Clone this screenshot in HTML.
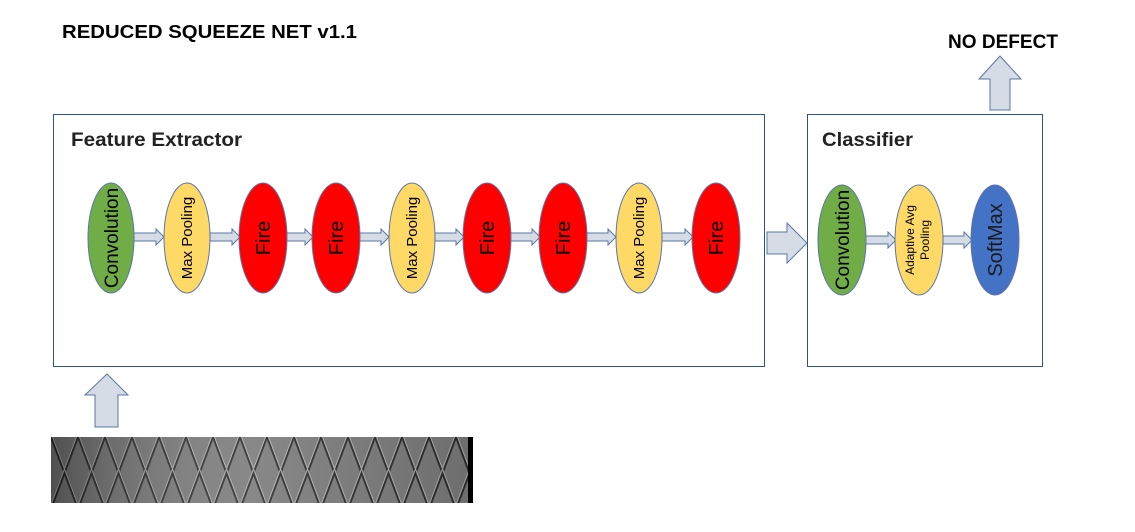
<!DOCTYPE html>
<html><head><meta charset="utf-8"><style>
html,body{margin:0;padding:0;background:#fff;}
svg{display:block;}
text{font-family:"Liberation Sans",sans-serif;}
</style></head><body>
<svg width="1135" height="532" viewBox="0 0 1135 532" xmlns="http://www.w3.org/2000/svg">
<defs>
<pattern id="dia" x="51" y="437" width="27" height="72" patternUnits="userSpaceOnUse">
<rect width="27" height="72" fill="#7a7a7a"/>
<path d="M0,0 L27,72 M27,0 L0,72 M-13.5,36 L13.5,108 M13.5,-36 L40.5,36 M40.5,36 L13.5,108 M13.5,-36 L-13.5,36" stroke="#2a2a2a" stroke-width="2"/>
<path d="M1.5,0 L28.5,72 M25.5,0 L-1.5,72" stroke="#b0b0b0" stroke-width="1"/>
</pattern>
<linearGradient id="shade" x1="0" x2="1">
<stop offset="0" stop-color="#000" stop-opacity="0.35"/>
<stop offset="0.5" stop-color="#fff" stop-opacity="0.1"/>
<stop offset="1" stop-color="#000" stop-opacity="0.1"/>
</linearGradient>
</defs>

<text x="62" y="38" font-size="18" font-weight="bold" fill="#000" textLength="295" lengthAdjust="spacingAndGlyphs">REDUCED SQUEEZE NET v1.1</text>
<text x="948" y="48" font-size="19" font-weight="bold" fill="#000" textLength="110" lengthAdjust="spacingAndGlyphs">NO DEFECT</text>

<rect x="53.5" y="114.5" width="711" height="252" fill="#fff" stroke="#2f4f8f" stroke-width="1"/>
<rect x="807.5" y="114.5" width="235" height="252" fill="#fff" stroke="#2f4f8f" stroke-width="1"/>
<text x="71" y="146" font-size="19" font-weight="bold" fill="#222" textLength="171" lengthAdjust="spacingAndGlyphs">Feature Extractor</text>
<text x="822" y="146" font-size="19" font-weight="bold" fill="#222" textLength="91" lengthAdjust="spacingAndGlyphs">Classifier</text>

<g fill="#d6dce5" stroke="#5b76a8" stroke-width="1">
<path d="M134,233 H156 V229 L164,237 L156,245 V241 H134 Z"/>
<path d="M210,233 H232 V229 L240,237 L232,245 V241 H210 Z"/>
<path d="M286,233 H305 V229 L313,237 L305,245 V241 H286 Z"/>
<path d="M359,233 H381 V229 L389,237 L381,245 V241 H359 Z"/>
<path d="M435,233 H456 V229 L464,237 L456,245 V241 H435 Z"/>
<path d="M510,233 H532 V229 L540,237 L532,245 V241 H510 Z"/>
<path d="M586,233 H608 V229 L616,237 L608,245 V241 H586 Z"/>
<path d="M662,233 H685 V229 L693,237 L685,245 V241 H662 Z"/>
<path d="M866,236 H888 V232 L896,240 L888,248 V244 H866 Z"/>
<path d="M943,236 H964 V232 L972,240 L964,248 V244 H943 Z"/>
<path d="M767,232 H787 V223 L807,243 L787,263 V254 H767 Z"/>
<path d="M990,110 V79 H979 L1000,56 L1021,79 H1010 V110 Z"/>
<path d="M95,427 V395 H85 L107,374 L128,395 H118 V427 Z"/>
</g>

<g stroke="#5b76a8" stroke-width="1">
<ellipse cx="111" cy="238" rx="23" ry="55" fill="#70ad47"/>
<ellipse cx="187" cy="238" rx="23" ry="55" fill="#ffd966"/>
<ellipse cx="263" cy="238" rx="24" ry="55" fill="#ff0000"/>
<ellipse cx="336" cy="238" rx="24" ry="55" fill="#ff0000"/>
<ellipse cx="412" cy="238" rx="23" ry="55" fill="#ffd966"/>
<ellipse cx="487" cy="238" rx="24" ry="55" fill="#ff0000"/>
<ellipse cx="563" cy="238" rx="24" ry="55" fill="#ff0000"/>
<ellipse cx="639" cy="238" rx="23" ry="55" fill="#ffd966"/>
<ellipse cx="716" cy="238" rx="24" ry="55" fill="#ff0000"/>
<ellipse cx="842" cy="240" rx="24" ry="55" fill="#70ad47"/>
<ellipse cx="919" cy="240" rx="24" ry="55" fill="#ffd966"/>
<ellipse cx="995" cy="240" rx="24" ry="55" fill="#4472c4"/>
</g>

<g fill="#000" text-anchor="middle">
<text transform="translate(118,238) rotate(-90)" font-size="19">Convolution</text>
<text transform="translate(192,238) rotate(-90)" font-size="15">Max Pooling</text>
<text transform="translate(270,238) rotate(-90)" font-size="20">Fire</text>
<text transform="translate(343,238) rotate(-90)" font-size="20">Fire</text>
<text transform="translate(417,238) rotate(-90)" font-size="15">Max Pooling</text>
<text transform="translate(494,238) rotate(-90)" font-size="20">Fire</text>
<text transform="translate(570,238) rotate(-90)" font-size="20">Fire</text>
<text transform="translate(644,238) rotate(-90)" font-size="15">Max Pooling</text>
<text transform="translate(723,238) rotate(-90)" font-size="20">Fire</text>
<text transform="translate(849,240) rotate(-90)" font-size="19">Convolution</text>
<text transform="translate(914,240) rotate(-90)" font-size="12">Adaptive Avg</text>
<text transform="translate(929,240) rotate(-90)" font-size="12">Pooling</text>
<text transform="translate(1002,240) rotate(-90)" font-size="20" fill="#1a1a1a">SoftMax</text>
</g>

<rect x="51" y="437" width="417" height="66" fill="url(#dia)"/>
<rect x="51" y="437" width="417" height="66" fill="url(#shade)"/>
<rect x="468" y="437" width="5" height="66" fill="#000"/>
</svg>
</body></html>
